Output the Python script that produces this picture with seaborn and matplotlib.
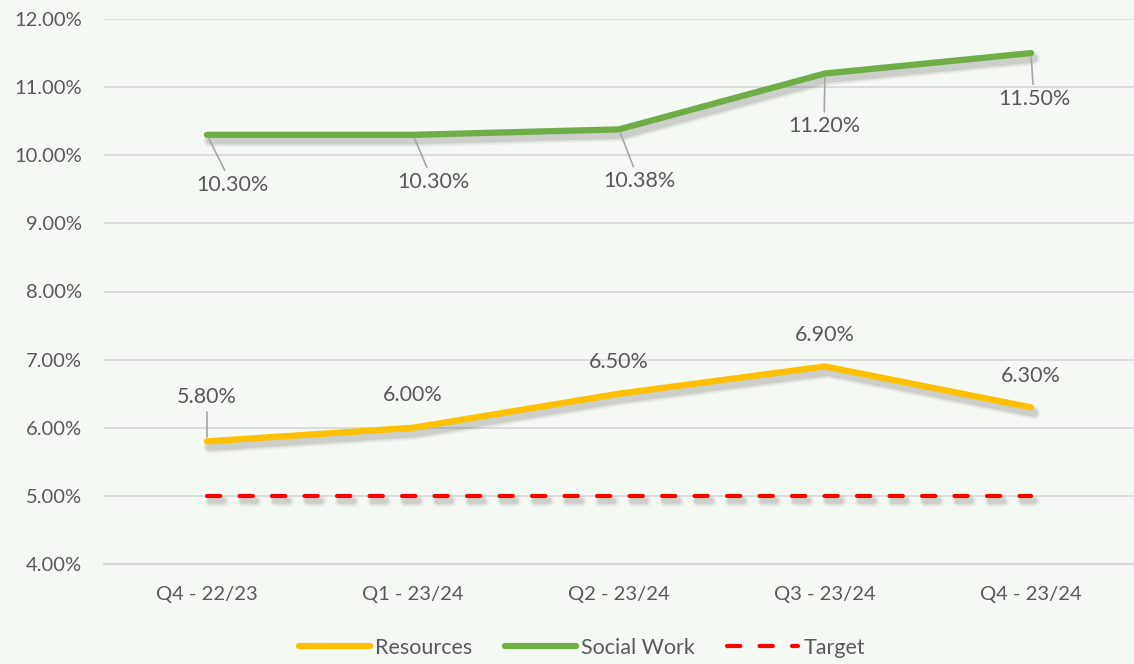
import matplotlib
matplotlib.use("Agg")
import matplotlib.pyplot as plt
import matplotlib.patheffects as pe
from matplotlib.ticker import FuncFormatter, MultipleLocator
import seaborn as sns
import pandas as pd

# ---- data ----
quarters = ["Q4 - 22/23", "Q1 - 23/24", "Q2 - 23/24", "Q3 - 23/24", "Q4 - 23/24"]
resources = [5.80, 6.00, 6.50, 6.90, 6.30]
social_work = [10.30, 10.30, 10.38, 11.20, 11.50]
target = [5.00, 5.00, 5.00, 5.00, 5.00]

sns.set_theme(style="white")
plt.rcParams['font.family'] = ['Lato', 'DejaVu Sans']

BG = "#F5F9F3"
TXT = "#595959"
GRID = "#D9D9D9"

fig = plt.figure(figsize=(11.34, 6.64), dpi=100, facecolor=BG)
ax = fig.add_axes([104 / 1134, 1 - 564 / 664, 1 - 104 / 1134, (564 - 19) / 664])
ax.set_facecolor(BG)

pos = list(range(len(quarters)))
df = pd.DataFrame({"pos": pos, "Resources": resources,
                   "Social Work": social_work, "Target": target})


def shadow(lw):
    return [pe.SimpleLineShadow(offset=(2, -4), shadow_color="#333333", alpha=0.05, linewidth=lw + 5),
            pe.SimpleLineShadow(offset=(2, -4), shadow_color="#333333", alpha=0.07, linewidth=lw + 3),
            pe.SimpleLineShadow(offset=(2, -4), shadow_color="#333333", alpha=0.10, linewidth=lw + 1),
            pe.Normal()]


sns.lineplot(data=df, x="pos", y="Resources", color="#FFC000", linewidth=4.5,
             label="Resources", ax=ax, solid_capstyle="round", path_effects=shadow(4.5))
sns.lineplot(data=df, x="pos", y="Social Work", color="#70AD47", linewidth=4.5,
             label="Social Work", ax=ax, solid_capstyle="round", path_effects=shadow(4.5))
sns.lineplot(data=df, x="pos", y="Target", color="#FF0000", linewidth=3.0,
             linestyle=(0, (3.2, 4.6)), dash_capstyle="round",
             label="Target", ax=ax, path_effects=shadow(3.0))

ax.set_xlim(-0.5, len(quarters) - 0.5)
ax.set_ylim(4.0, 12.0)
ax.yaxis.set_major_locator(MultipleLocator(1.0))
ax.yaxis.set_major_formatter(FuncFormatter(lambda v, p: f"{v:.2f}%"))
ax.set_xticks(pos)
ax.set_xticklabels(quarters)
ax.set_xlabel("")
ax.set_ylabel("")
ax.grid(axis="y", color=GRID, linewidth=1.3)
ax.set_axisbelow(True)
for s in ["top", "right", "left"]:
    ax.spines[s].set_visible(False)
ax.spines["bottom"].set_color(GRID)
ax.spines["bottom"].set_linewidth(1.6)
ax.tick_params(axis="both", length=0, labelsize=14.5, colors=TXT)
ax.tick_params(axis="y", pad=16)
ax.tick_params(axis="x", pad=16)

# ---- data labels ----
res_off = [(0, 44), (0, 33), (0, 32), (0, 31), (0, 31)]
res_lead = [True, False, False, False, False]
for i, v in enumerate(resources):
    ap = dict(arrowstyle="-", color="#A6A6A6", lw=1.2, shrinkA=1, shrinkB=3) if res_lead[i] else None
    ax.annotate(f"{v:.2f}%", xy=(i, v), xytext=res_off[i], textcoords="offset pixels",
                ha="center", va="center", fontsize=15.5, color=TXT, arrowprops=ap)

sw_off = [(25, -50), (20, -47), (20, -52), (-1, -53), (3, -46)]
for i, v in enumerate(social_work):
    ap = dict(arrowstyle="-", color="#A6A6A6", lw=1.2, shrinkA=1, shrinkB=3)
    ax.annotate(f"{v:.2f}%", xy=(i, v), xytext=sw_off[i], textcoords="offset pixels",
                ha="center", va="center", fontsize=15.5, color=TXT, arrowprops=ap)

# ---- legend ----
handles, labels = ax.get_legend_handles_labels()
if ax.get_legend() is not None:
    ax.get_legend().remove()
leg = fig.legend(handles, labels, loc="center", bbox_to_anchor=(582 / 1134, 1 - 648 / 664),
                 ncol=3, frameon=False, fontsize=15.5, handlelength=3.3,
                 handletextpad=0.25, columnspacing=1.5, labelcolor=TXT)
for h in leg.get_lines():
    h.set_path_effects([])

fig.savefig("out.png", dpi=100, facecolor=BG)
